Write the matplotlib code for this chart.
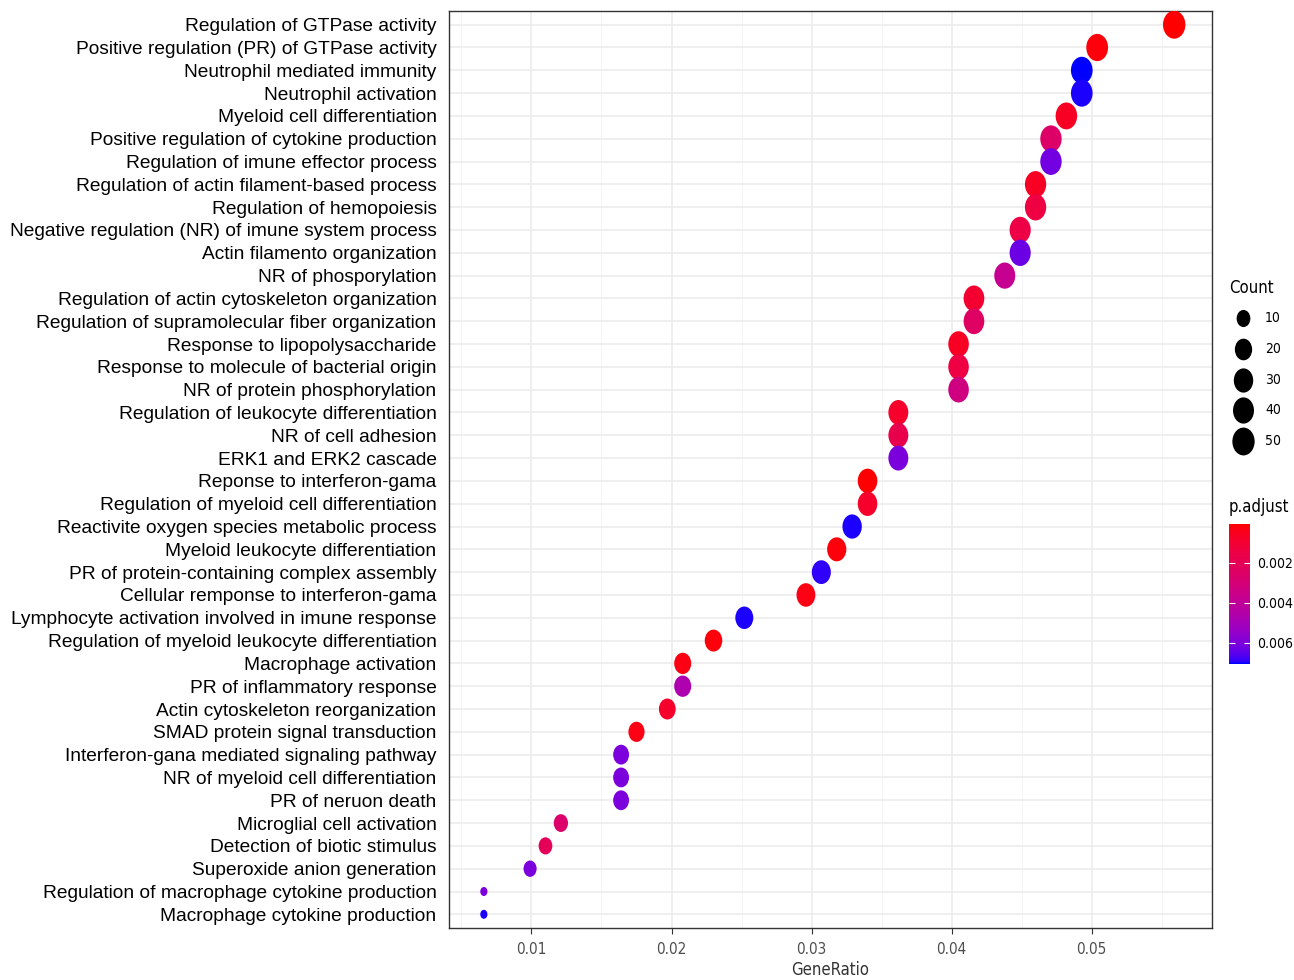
import numpy as np
import matplotlib
matplotlib.use("Agg")
import matplotlib.pyplot as plt
from matplotlib.path import Path
from matplotlib.colors import ListedColormap, Normalize

# ---------------- data ----------------
terms = [
    "Regulation of GTPase activity",
    "Positive regulation (PR) of GTPase activity",
    "Neutrophil mediated immunity",
    "Neutrophil activation",
    "Myeloid cell differentiation",
    "Positive regulation of cytokine production",
    "Regulation of imune effector process",
    "Regulation of actin filament-based process",
    "Regulation of hemopoiesis",
    "Negative regulation (NR) of imune system process",
    "Actin filamento organization",
    "NR of phosporylation",
    "Regulation of actin cytoskeleton organization",
    "Regulation of supramolecular fiber organization",
    "Response to lipopolysaccharide",
    "Response to molecule of bacterial origin",
    "NR of protein phosphorylation",
    "Regulation of leukocyte differentiation",
    "NR of cell adhesion",
    "ERK1 and ERK2 cascade",
    "Reponse to interferon-gama",
    "Regulation of myeloid cell differentiation",
    "Reactivite oxygen species metabolic process",
    "Myeloid leukocyte differentiation",
    "PR of protein-containing complex assembly",
    "Cellular remponse to interferon-gama",
    "Lymphocyte activation involved in imune response",
    "Regulation of myeloid leukocyte differentiation",
    "Macrophage activation",
    "PR of inflammatory response",
    "Actin cytoskeleton reorganization",
    "SMAD protein signal transduction",
    "Interferon-gana mediated signaling pathway",
    "NR of myeloid cell differentiation",
    "PR of neruon death",
    "Microglial cell activation",
    "Detection of biotic stimulus",
    "Superoxide anion generation",
    "Regulation of macrophage cytokine production",
    "Macrophage cytokine production",
]
gene_ratio = [0.0559, 0.0504, 0.0493, 0.0493, 0.0482, 0.0471, 0.0471, 0.0460,
              0.0460, 0.0449, 0.0449, 0.0438, 0.0416, 0.0416, 0.0405, 0.0405,
              0.0405, 0.0362, 0.0362, 0.0362, 0.0340, 0.0340, 0.0329, 0.0318,
              0.0307, 0.0296, 0.0252, 0.0230, 0.0208, 0.0208, 0.0197, 0.0175,
              0.0164, 0.0164, 0.0164, 0.0121, 0.0110, 0.0099, 0.0066, 0.0066]
counts = [51, 46, 45, 45, 44, 43, 43, 42, 42, 41, 41, 40, 38, 38, 37, 37,
          37, 33, 33, 33, 31, 31, 30, 29, 28, 27, 23, 21, 19, 19, 18, 16,
          15, 15, 15, 11, 10, 9, 6, 6]
p_adjust = [0.00005, 0.0002, 0.00706, 0.0070, 0.0006, 0.0025, 0.0062, 0.0006,
            0.0014, 0.0015, 0.0063, 0.0038, 0.0009, 0.0024, 0.0006, 0.0014,
            0.0033, 0.0008, 0.0017, 0.0060, 0.0001, 0.0008, 0.0070, 0.0002,
            0.0069, 0.0003, 0.0070, 0.0002, 0.0003, 0.0047, 0.0008, 0.0003,
            0.0060, 0.0060, 0.0060, 0.0026, 0.0021, 0.0060, 0.0060, 0.0070]
count_breaks = [10, 20, 30, 40, 50]
padj_ticks = [0.002, 0.004, 0.006]
x_ticks = [0.01, 0.02, 0.03, 0.04, 0.05]

# ---------------- helpers ----------------
def _srgb_to_lin(c):
    c = np.asarray(c, float)
    return np.where(c <= 0.04045, c / 12.92, ((c + 0.055) / 1.055) ** 2.4)

def _lin_to_srgb(c):
    c = np.clip(c, 0, 1)
    return np.where(c <= 0.0031308, 12.92 * c, 1.055 * c ** (1 / 2.4) - 0.055)

M = np.array([[0.4124, 0.3576, 0.1805], [0.2126, 0.7152, 0.0722], [0.0193, 0.1192, 0.9505]])
Minv = np.linalg.inv(M)
WP = np.array([0.95047, 1.0, 1.08883])

def rgb_to_lab(rgb):
    xyz = M @ _srgb_to_lin(rgb) / WP
    f = np.where(xyz > 0.008856, np.cbrt(xyz), 7.787 * xyz + 16 / 116)
    return np.array([116 * f[1] - 16, 500 * (f[0] - f[1]), 200 * (f[1] - f[2])])

def lab_to_rgb(lab):
    fy = (lab[0] + 16) / 116
    fx = fy + lab[1] / 500
    fz = fy - lab[2] / 200
    f = np.array([fx, fy, fz])
    xyz = np.where(f ** 3 > 0.008856, f ** 3, (f - 16 / 116) / 7.787) * WP
    return _lin_to_srgb(Minv @ xyz)

lab_lo, lab_hi = rgb_to_lab([1, 0, 0]), rgb_to_lab([0, 0, 1])
cmap = ListedColormap([lab_to_rgb(lab_lo + t * (lab_hi - lab_lo)) for t in np.linspace(0, 1, 256)])
norm = Normalize(vmin=min(p_adjust), vmax=max(p_adjust))

# ellipse marker (taller than wide)
circ = Path.unit_circle()
ellipse = Path(circ.vertices * np.array([0.8, 1.0]), circ.codes)

DPI = 100
cmin, cmax = min(counts), max(counts)
def size_pts2(c):
    # size scale: marker height in pixels 9 .. 28
    frac = np.clip((np.asarray(c, float) - cmin) / (cmax - cmin), 0, None)
    d_px = 9 + 19 * frac ** 0.35
    return (d_px * 72 / DPI) ** 2

plt.rcParams['font.family'] = ['Liberation Sans', 'DejaVu Sans']
NARROW = dict(family='DejaVu Sans', stretch='condensed')

fig = plt.figure(figsize=(12.94, 9.80), dpi=DPI)
ax = fig.add_axes([449 / 1294, 1 - 928 / 980, (1212 - 449) / 1294, (928 - 11) / 980])

n = len(terms)
ypos = np.arange(n, 0, -1)
ax.scatter(gene_ratio, ypos, s=size_pts2(counts), c=p_adjust, cmap=cmap, norm=norm,
           marker=ellipse, linewidths=0, zorder=3)

ax.set_xlim(0.00411, 0.0586)
ax.set_ylim(0.4, n + 0.6)
ax.set_yticks(ypos)
ax.set_yticklabels(terms, fontsize=13.8, color='black')
ax.set_xticks(x_ticks)
ax.set_xticklabels([f"{v:.2f}" for v in x_ticks], fontsize=11, color='#4d4d4d', **NARROW)
ax.set_xticks(np.arange(0.005, 0.0586, 0.01), minor=True)
ax.tick_params(axis='y', length=0, pad=9)
ax.tick_params(axis='x', which='major', length=4, color='#333333', width=0.8, pad=6)
ax.tick_params(axis='x', which='minor', length=0)
ax.grid(True, which='major', color='#ebebeb', linewidth=1.1, zorder=0)
ax.grid(True, which='minor', axis='x', color='#f2f2f2', linewidth=0.6, zorder=0)
ax.set_axisbelow(True)
for s in ax.spines.values():
    s.set_color('#333333')
    s.set_linewidth(1.0)
ax.set_xlabel("GeneRatio", fontsize=12, color='#333333', labelpad=3, **NARROW)

# ---- size legend ----
fig.text(1229 / 1294, 1 - 288 / 980, "Count", fontsize=12, va='center', ha='left', **NARROW)
lax = fig.add_axes([1228 / 1294, 1 - 456 / 980, 60 / 1294, 153 / 980])
lax.set_axis_off()
lax.set_xlim(0, 60)
lax.set_ylim(len(count_breaks) + 0.5, 0.5)
for i, cb in enumerate(count_breaks):
    lax.scatter([15], [i + 1], s=size_pts2(cb), color='black', marker=ellipse,
                linewidths=0, clip_on=False)
    lax.text(37, i + 1, str(cb), fontsize=10, va='center', ha='left', **NARROW)

# ---- colorbar ----
fig.text(1229 / 1294, 1 - 507 / 980, "p.adjust", fontsize=12, va='center', ha='left', **NARROW)
cax = fig.add_axes([1229 / 1294, 1 - 664 / 980, 21 / 1294, 140 / 980])
sm = plt.cm.ScalarMappable(norm=norm, cmap=cmap)
cb = fig.colorbar(sm, cax=cax)
cb.outline.set_visible(False)
cax.invert_yaxis()
cb.set_ticks(padj_ticks)
cb.set_ticklabels([f"{v:.3f}" for v in padj_ticks])
for t in cax.get_yticklabels():
    t.set_fontfamily('DejaVu Sans')
    t.set_fontstretch('condensed')
    t.set_fontsize(10)
cax.tick_params(axis='y', length=4, width=0.8, color='white', direction='in',
                left=True, right=True, pad=5)

fig.savefig("out.png", dpi=DPI, facecolor='white')
